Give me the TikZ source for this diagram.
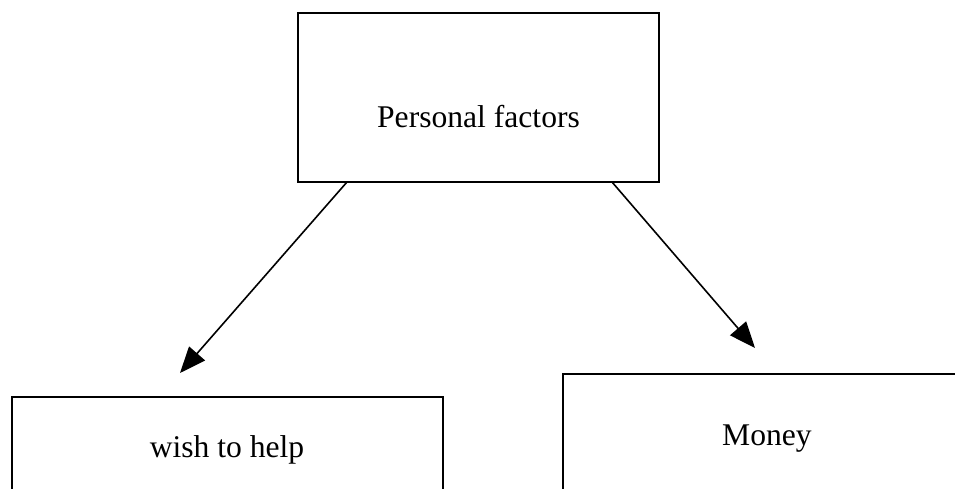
\documentclass[tikz,border=0pt]{standalone}
\usepackage{fontspec}
\setmainfont{Liberation Serif}
\usetikzlibrary{arrows.meta}
\begin{document}
\begin{tikzpicture}[x=1pt,y=-1pt,
  boxstyle/.style={draw,line width=1.8pt,inner sep=0pt,rectangle},
  lbl/.style={inner sep=0pt,anchor=base,font=\fontsize{31.6}{38}\selectfont},
  conn/.style={line width=1.6pt,-{Triangle[length=26pt,width=21pt]}}]
\useasboundingbox (0,0) rectangle (955,488);
\clip (0,0) rectangle (955,488);
\node[boxstyle,minimum width=361pt,minimum height=169pt] (p) at (478.5,97.5) {};
\node[lbl] (pt) at (478.5,127) {Personal factors};
\node[boxstyle,minimum width=431pt,minimum height=112pt] (w) at (227.5,453) {};
\node[lbl] (wt) at (227,457) {wish to help};
\node[boxstyle,minimum width=414pt,minimum height=130pt] (m) at (770,439) {};
\node[lbl] (mt) at (767,445) {Money};
\coordinate (ps1) at (347,182);
\coordinate (ps2) at (612,182);
\coordinate (wtip) at (180,373);
\coordinate (mtip) at (755,348);
\draw[conn] (ps1) -- (wtip);
\draw[conn] (ps2) -- (mtip);
\end{tikzpicture}
\end{document}
